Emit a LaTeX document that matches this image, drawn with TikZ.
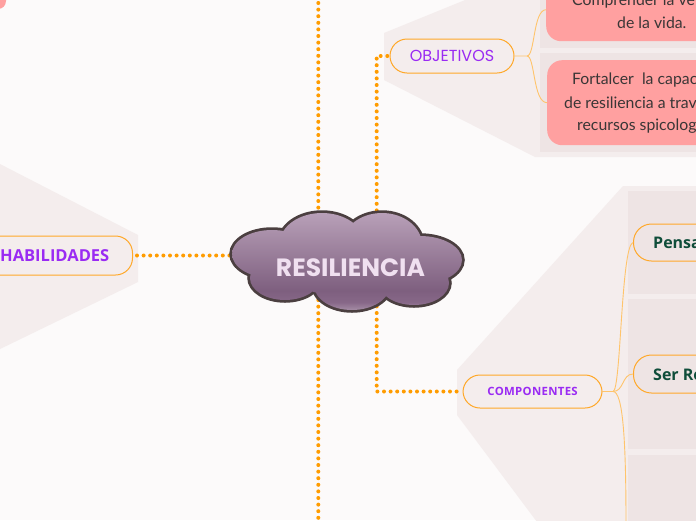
\documentclass[tikz,border=0pt]{standalone}
\usepackage{fontspec}
\setmainfont{Lato}
\newfontfamily\popfont{Poppins}
\newfontfamily\osfont{Open Sans}
\usetikzlibrary{calc}
\definecolor{bg}{HTML}{FCFAFA}
\definecolor{panel}{HTML}{F4EDED}
\definecolor{panelD}{HTML}{EEE4E4}
\definecolor{dotc}{HTML}{FF9C00}
\definecolor{pillb}{HTML}{FFA829}
\definecolor{branch}{HTML}{FFC46B}
\definecolor{purp}{HTML}{9A2BF3}
\definecolor{salmon}{HTML}{FFA0A0}
\definecolor{dgreen}{HTML}{0F4D3A}
\definecolor{cloudT}{HTML}{B8A0B8}
\definecolor{cloudB}{HTML}{7E5F7F}
\definecolor{cloudM}{HTML}{876888}
\definecolor{cloudL}{HTML}{A58CA5}
\definecolor{cloudE}{HTML}{4B3F40}
\definecolor{txtc}{HTML}{3A3636}
\pgfdeclareverticalshading{cloudsh}{100bp}{color(0bp)=(cloudL); color(25bp)=(cloudL); color(29bp)=(cloudM); color(35bp)=(cloudB); color(75bp)=(cloudT); color(100bp)=(cloudT)}
\begin{document}
\begin{tikzpicture}[x=1pt,y=-1pt,
  dotline/.style={draw=dotc, line width=4pt, line cap=round, dash pattern=on 0pt off 6.6pt},
  branchline/.style={draw=branch, line width=0.9pt},
  pillbox/.style={draw=pillb, line width=1pt, rounded corners=17pt, fill=panel, inner sep=0pt},
  salmonbox/.style={fill=salmon, rounded corners=15pt, inner sep=0pt},
  saltext/.style={font=\fontsize{15.8}{18}\selectfont, text=txtc, anchor=west, inner sep=0pt},
  greentext/.style={font=\osfont\bfseries\fontsize{16}{18}\selectfont, text=dgreen, anchor=west, inner sep=0pt}]
\useasboundingbox (0,0) rectangle (696,520);
\clip (0,0) rectangle (696,520);
\fill[bg] (0,0) rectangle (696,520);

% panels
\fill[panel] (384,33) -- (470,-2) -- (700,-2) -- (700,157) -- (535,157) -- (384,80) -- cycle;
\fill[panelD] (540,-2) rectangle (700,47.5);
\fill[panelD] (540,53) rectangle (700,152);
\fill[panel] (-2,163) -- (138,235) -- (138,282) -- (-2,350) -- cycle;
\fill[panel] (457,370) -- (623,186) -- (700,186) -- (700,522) -- (537,522) -- (457,415) -- cycle;
\fill[panelD] (628,191) rectangle (700,294);
\fill[panelD] (628,299) rectangle (700,449);
\fill[panelD] (628,455) rectangle (700,522);

% top-left corner of a node
\fill[salmon, rounded corners=8pt] (-60,-40) rectangle (6,9);

% nodes
\node[pillbox, minimum width=124pt, minimum height=34pt, font=\popfont\fontsize{16}{18}\selectfont, text=purp] (obj) at (452,56) {OBJETIVOS};
\node[salmonbox, minimum width=170pt, minimum height=63pt, anchor=north west] (obj1) at (546,-22) {};
\node[salmonbox, minimum width=170pt, minimum height=85pt, anchor=north west] (obj2) at (547,60) {};
\node[saltext] (t11) at (572,1) {Comprender la ve};
\node[saltext] (t12) at (617,22.5) {de la vida.};
\node[saltext] (t21) at (572,80.5) {Fortalcer\ \ la capac};
\node[saltext] (t22) at (564,103) {de resiliencia a trav};
\node[saltext] (t23) at (577,126) {recursos spicolog};

\node[pillbox, minimum width=193pt, minimum height=39pt, anchor=east] (hab) at (133,255.5) {};
\node[font=\osfont\bfseries\fontsize{16.5}{18}\selectfont, text=purp, anchor=east, inner sep=0pt] (habt) at (109.5,256) {HABILIDADES};

\node[pillbox, minimum width=139pt, minimum height=33pt, font=\osfont\bfseries\fontsize{11.4}{13}\selectfont, text=purp] (comp) at (532.5,391.5) {C\kern0.3pt O\kern0.3pt M\kern0.3pt P\kern0.3pt O\kern0.3pt N\kern0.3pt E\kern0.3pt N\kern0.3pt T\kern0.3pt E\kern0.3pt S};
\node[pillbox, fill=panelD, rounded corners=18pt, minimum width=130pt, minimum height=37pt, anchor=west] (pens) at (633,242.5) {};
\node[pillbox, fill=panelD, rounded corners=18pt, minimum width=130pt, minimum height=38pt, anchor=west] (ser) at (633,374) {};
\node[greentext] (penst) at (653,243) {Pensa};
\node[greentext] (sert) at (653,374.5) {Ser Re};

% connector coordinates
\coordinate (topend) at (318.3,3);
\coordinate (botend) at (318.3,522);
\coordinate (cobj) at (376.7,250);
\coordinate (ccomp) at (376.7,280);
\coordinate (chab) at (250,255.5);
\coordinate (objfork) at (527,56);
\coordinate (compfork) at (613,391.5);
\coordinate (comp3) at (626,525);

% dotted connectors (behind cloud)
\draw[dotline] (topend) -- (botend);
\draw[dotline] (cobj) |- (obj.west);
\draw[dotline] (ccomp) |- (comp.west);
\draw[dotline, shorten <=4pt] (hab.east) -- (chab);

% branches
\draw[branchline] (obj.east) -- (objfork) .. controls (535,56) and (533,10) .. (obj1.west);
\draw[branchline] (objfork) .. controls (535,56) and (533,102.5) .. (obj2.west);
\draw[branchline] (comp.east) -- (compfork) .. controls (621,391.5) and (621,246) .. (pens.west);
\draw[branchline] (compfork) .. controls (624,391.5) and (622,374) .. (ser.west);
\draw[branchline] (compfork) .. controls (623,391.5) and (626,440) .. (comp3);

% cloud
\path[draw=cloudE, line width=5.5pt]
  (272,254) ellipse [x radius=40, y radius=24]
  (322,243) ellipse [x radius=42, y radius=30]
  (382,245) ellipse [x radius=40, y radius=32]
  (420,260) ellipse [x radius=42, y radius=24]
  (414,283) ellipse [x radius=35, y radius=22]
  (352,285) ellipse [x radius=38, y radius=25]
  (285,278) ellipse [x radius=35, y radius=22];
\path[shading=cloudsh]
  (272,254) ellipse [x radius=40, y radius=24]
  (322,243) ellipse [x radius=42, y radius=30]
  (382,245) ellipse [x radius=40, y radius=32]
  (420,260) ellipse [x radius=42, y radius=24]
  (414,283) ellipse [x radius=35, y radius=22]
  (352,285) ellipse [x radius=38, y radius=25]
  (285,278) ellipse [x radius=35, y radius=22]
  (350,262) ellipse [x radius=70, y radius=35];
\node[font=\popfont\bfseries\fontsize{25}{28}\selectfont, text=white!88!violet, inner sep=0pt] (cloud) at (350.5,267.5) {RESILIENCIA};
\end{tikzpicture}
\end{document}
